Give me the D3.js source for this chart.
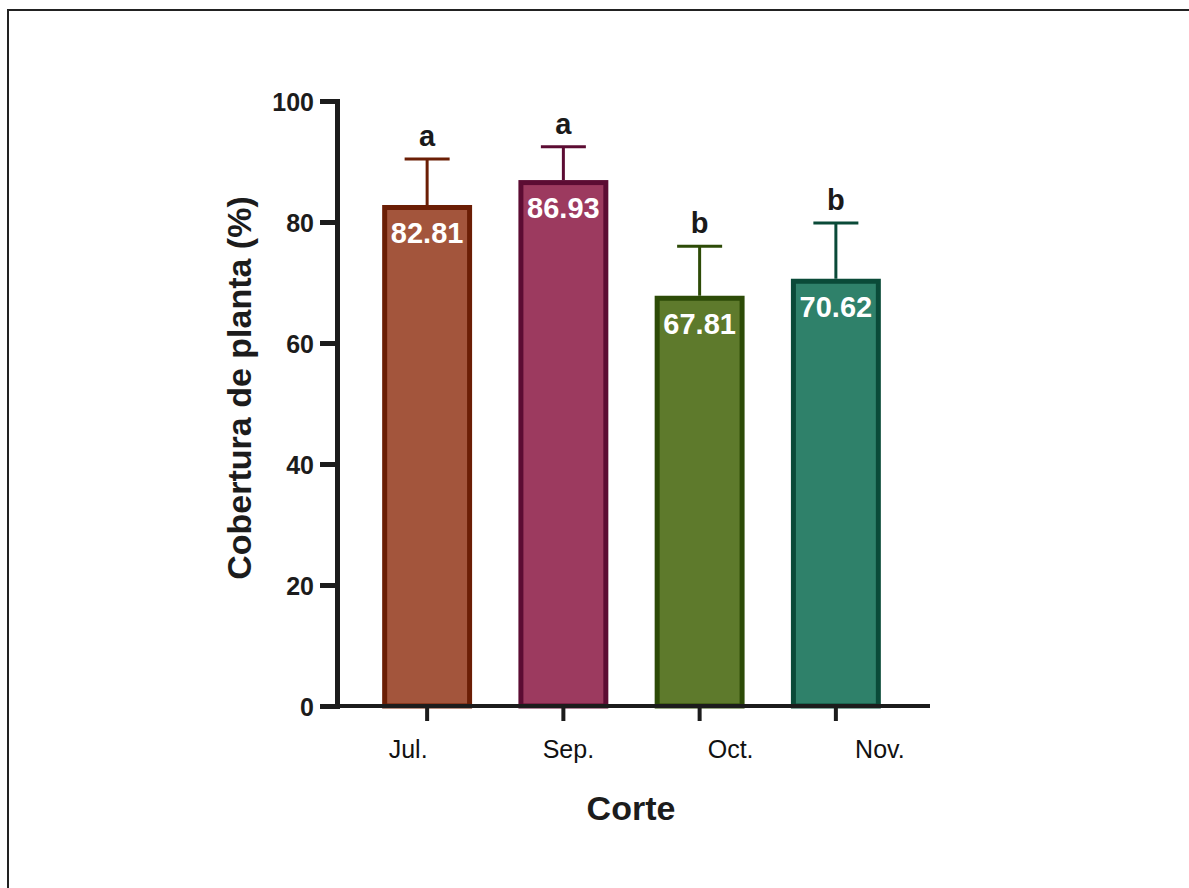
<html>
<head>
  <meta charset="utf-8">
  <script src="https://d3js.org/d3.v7.min.js"></script>
  <style>
    body { margin: 0; background: #fff; }
    text { font-family: "Liberation Sans", Arial, sans-serif; }
    .axis .domain { stroke: #1c1c1c; stroke-width: 5px; }
    .axis line { stroke: #1c1c1c; stroke-width: 5px; }
    .x.axis line { stroke-width: 4px; }
  </style>
</head>
<body>
  <svg id="chart" width="1189" height="888"></svg>

  <script>
    // data
    const months = ["Jul.", "Sep.", "Oct.", "Nov."];
    const means = [82.81, 86.93, 67.81, 70.62];
    const sds = [7.6, 5.5, 8.2, 9.2];
    const letters = ["a", "a", "b", "b"];
    const yTicks = [0, 20, 40, 60, 80, 100];

    // bar colours (fill, outline)
    const fills = ["#a3553c", "#9c3a5f", "#5e7a2c", "#2f816a"];
    const strokes = ["#6b1e05", "#5c0c33", "#2d4b07", "#0a4a38"];
    // the month labels sit a bit off their ticks in the original
    const labelShift = [-19, 5, 31, 44];

    const svg = d3.select("#chart");

    // frame
    svg.append("rect")
       .attr("x", 8).attr("y", 10)
       .attr("width", 1300).attr("height", 1000)
       .attr("fill", "none").attr("stroke", "#222").attr("stroke-width", 2);

    const y = d3.scaleLinear().domain([0, 100]).range([706, 101]);
    const x = d3.scaleBand().domain(months)
                .range([359, 904])
                .paddingInner(0.34)
                .paddingOuter(0.17);
    const bw = x.bandwidth();

    // bars
    const bars = svg.append("g");
    bars.selectAll("rect")
        .data(means)
        .join("rect")
        .attr("x", (d, i) => x(months[i]) + 2.5)
        .attr("y", d => y(d) + 2.5)
        .attr("width", bw - 5)
        .attr("height", d => y(0) - y(d) - 2.5)
        .attr("fill", (d, i) => fills[i])
        .attr("stroke", (d, i) => strokes[i])
        .attr("stroke-width", 5);

    // error bars (upper only)
    const err = svg.append("g");
    means.forEach((m, i) => {
      const cx = x(months[i]) + bw / 2;
      err.append("line")
         .attr("x1", cx).attr("x2", cx)
         .attr("y1", y(m)).attr("y2", y(m + sds[i]))
         .attr("stroke", strokes[i]).attr("stroke-width", 3);
      err.append("line")
         .attr("x1", cx - 22.5).attr("x2", cx + 22.5)
         .attr("y1", y(m + sds[i])).attr("y2", y(m + sds[i]))
         .attr("stroke", strokes[i]).attr("stroke-width", 3);
      // significance letter
      err.append("text")
         .attr("x", cx).attr("y", y(m + sds[i]) - 13)
         .attr("text-anchor", "middle")
         .attr("font-size", 29).attr("font-weight", "bold")
         .attr("fill", "#1a1a1a")
         .text(letters[i]);
      // value in the bar
      err.append("text")
         .attr("x", cx).attr("y", y(m) + 38)
         .attr("text-anchor", "middle")
         .attr("font-size", 29).attr("font-weight", "bold")
         .attr("fill", "#fff")
         .text(m.toFixed(2));
    });

    // y axis
    const yAxis = d3.axisLeft(y).tickValues(yTicks)
                    .tickSize(17).tickSizeOuter(0).tickPadding(6);
    const gy = svg.append("g").attr("class", "y axis")
                  .attr("transform", "translate(337,0)")
                  .call(yAxis);
    gy.select(".domain").attr("stroke-linecap", "square");
    gy.selectAll("text")
      .attr("font-size", 25).attr("font-weight", "bold")
      .attr("fill", "#1c1c1c").attr("dy", "0.36em");

    // x axis
    const xAxis = d3.axisBottom(x).tickSize(15).tickSizeOuter(0).tickPadding(0);
    const gx = svg.append("g").attr("class", "x axis")
                  .attr("transform", "translate(0," + y(0) + ")")
                  .call(xAxis);
    gx.select(".domain").remove();
    gx.append("line")
      .attr("x1", 337).attr("x2", 930)
      .attr("y1", 0).attr("y2", 0)
      .attr("stroke", "#1c1c1c").attr("stroke-width", 5);
    gx.selectAll(".tick text")
      .attr("font-size", 25).attr("font-weight", "normal")
      .attr("fill", "#111")
      .attr("y", 52).attr("dy", 0)
      .attr("dx", (d, i) => labelShift[i]);

    // axis titles
    svg.append("text")
       .attr("x", 631).attr("y", 820)
       .attr("text-anchor", "middle")
       .attr("font-size", 34).attr("font-weight", "bold")
       .attr("fill", "#1c1c1c")
       .text("Corte");

    svg.append("text")
       .attr("transform", "translate(251,388) rotate(-90)")
       .attr("text-anchor", "middle")
       .attr("font-size", 34).attr("font-weight", "bold")
       .attr("fill", "#1c1c1c")
       .text("Cobertura de planta (%)");
  </script>
</body>
</html>
